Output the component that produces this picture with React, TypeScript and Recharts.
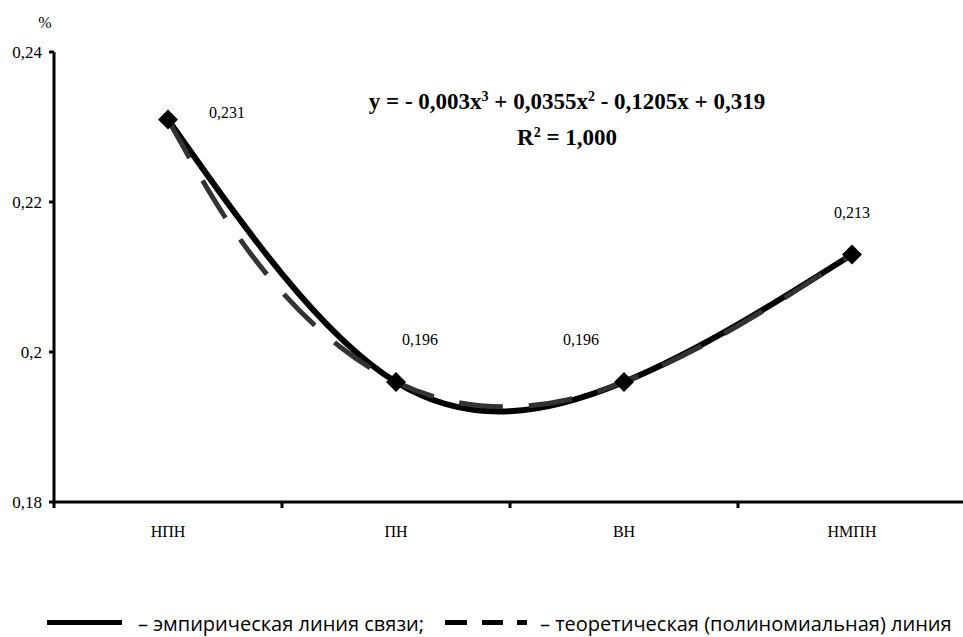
import { LineChart, Line, XAxis, YAxis } from 'recharts';

// categories and the measured (empirical) values
const categories = ['НПН', 'ПН', 'ВН', 'НМПН'];
const empirical = [0.231, 0.196, 0.196, 0.213];

// theoretical (polynomial) curve
const theoryX = [1, 1.25, 1.5, 1.75, 2, 2.25, 2.5, 2.75, 3, 3.25, 3.5, 3.75, 4];
const theoryY = [0.231, 0.218, 0.208, 0.2008, 0.196, 0.1934, 0.1927, 0.1936, 0.196, 0.1994, 0.2035, 0.2081, 0.213];

const yTicks = [0.18, 0.2, 0.22, 0.24];
const xTicks = [0.5, 1, 1.5, 2, 2.5, 3, 3.5, 4, 4.5];
const pointLabels = ['0,231', '0,196', '0,196', '0,213'];

const empiricalData = categories.map((name, i) => ({ x: i + 1, name, value: empirical[i] }));
const theoryData = theoryX.map((x, i) => ({ x, value: theoryY[i] }));

// label offsets relative to the marker
const labelOffset = [
  { dx: 59, dy: -2 },
  { dx: 24, dy: -37 },
  { dx: -43, dy: -37 },
  { dx: 0, dy: -37 },
];

const serif = 'Liberation Serif, Tinos, Times New Roman, Times, DejaVu Serif, Noto Serif, FreeSerif, serif';
const sans = 'Open Sans, Noto Sans, sans-serif';

const XTick = ({ x, y, payload }: any) => {
  const v = payload.value;
  if (Number.isInteger(v)) {
    return (
      <text x={x} y={y + 35} textAnchor="middle" style={{ fontFamily: serif }} fontSize={16} fill="#000">
        {categories[v - 1]}
      </text>
    );
  }
  return <line x1={x} x2={x} y1={y} y2={y + 6} stroke="#000" strokeWidth={3} />;
};

const Marker = (props: any) => {
  const { cx, cy, index } = props;
  if (cx == null || cy == null) return <g key={`m-${index}`} />;
  const r = 10;
  const off = labelOffset[index];
  return (
    <g key={`m-${index}`}>
      <path d={`M${cx},${cy - r} L${cx + r},${cy} L${cx},${cy + r} L${cx - r},${cy} Z`} fill="#000" />
      <text
        x={cx + off.dx}
        y={cy + off.dy}
        textAnchor="middle"
        style={{ fontFamily: serif }}
        fontSize={16}
        fill="#000"
      >
        {pointLabels[index]}
      </text>
    </g>
  );
};

const supStyle = { fontSize: 14, verticalAlign: 'baseline', position: 'relative' as const, top: '-0.6em' };

export default function App() {
  return (
    <div style={{ position: 'fixed', left: 0, top: 0, width: 963, height: 637, overflow: 'hidden', background: '#fff' }}>
      <div style={{ position: 'absolute', left: 0, top: 0 }}>
        <LineChart width={970} height={637} margin={{ top: 52, right: 4, bottom: 0, left: 0 }}>
          <XAxis
            dataKey="x"
            type="number"
            domain={[0.5, 4.5]}
            ticks={xTicks}
            interval={0}
            allowDataOverflow
            height={135}
            tickSize={0}
            tickMargin={0}
            tickLine={false}
            tick={<XTick />}
            axisLine={{ stroke: '#000', strokeWidth: 3 }}
          />
          <YAxis
            type="number"
            domain={[0.18, 0.24]}
            ticks={yTicks}
            interval={0}
            width={54}
            tickSize={5}
            tickMargin={7}
            tickLine={{ stroke: '#000', strokeWidth: 3 }}
            axisLine={{ stroke: '#000', strokeWidth: 3 }}
            tick={{ style: { fontFamily: serif }, fontSize: 17, fill: '#000' }}
            tickFormatter={(v: number) => String(v).replace('.', ',')}
          />
          <Line
            data={empiricalData}
            dataKey="value"
            type="natural"
            stroke="#000"
            strokeWidth={6}
            dot={false}
            activeDot={false}
            isAnimationActive={false}
          />
          <Line
            data={theoryData}
            dataKey="value"
            type="natural"
            stroke="#333"
            strokeWidth={5}
            strokeDasharray="44 26"
            dot={false}
            activeDot={false}
            isAnimationActive={false}
          />
          <Line
            data={empiricalData}
            dataKey="value"
            type="natural"
            stroke="none"
            dot={<Marker />}
            activeDot={false}
            isAnimationActive={false}
          />
        </LineChart>
      </div>

      <div
        style={{
          position: 'absolute',
          left: 267,
          top: 85,
          width: 600,
          textAlign: 'center',
          fontFamily: serif,
          fontWeight: 'bold',
          fontSize: 23,
          lineHeight: '33px',
          color: '#000',
        }}
      >
        <div>
          y = - 0,003x<sup style={supStyle}>3</sup> + 0,0355x<sup style={supStyle}>2</sup> - 0,1205x + 0,319
        </div>
        <div>
          R<sup style={supStyle}>2</sup> = 1,000
        </div>
      </div>

      <svg width={963} height={637} style={{ position: 'absolute', left: 0, top: 0, pointerEvents: 'none' }}>
        <text x={45} y={28} textAnchor="middle" style={{ fontFamily: serif }} fontSize={16} fill="#000">%</text>
        <rect x={47} y={620} width={75} height={5} fill="#000" />
        <text x={138} y={631} style={{ fontFamily: sans }} fontSize={20} fill="#000">– эмпирическая линия связи;</text>
        <rect x={445} y={620} width={22} height={5} fill="#000" />
        <rect x={482} y={620} width={21} height={5} fill="#000" />
        <rect x={517} y={620} width={10} height={5} fill="#000" />
        <text x={540} y={631} style={{ fontFamily: sans }} fontSize={20} fill="#000">– теоретическая (полиномиальная) линия</text>
      </svg>
    </div>
  );
}
